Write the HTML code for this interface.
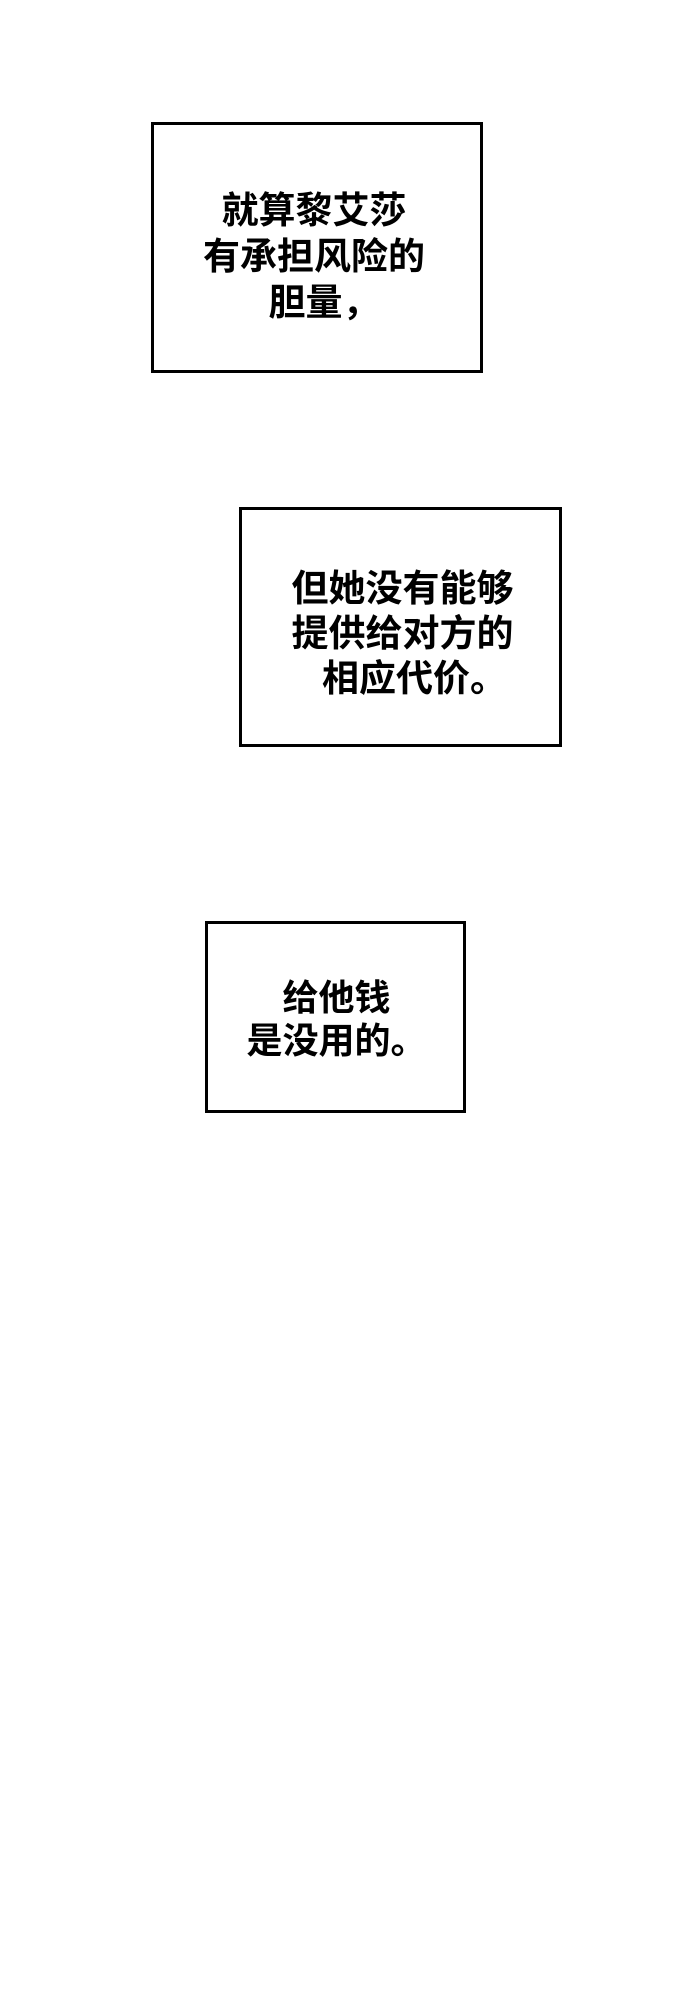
<!DOCTYPE html>
<html><head><meta charset="utf-8"><style>
html,body{margin:0;padding:0;background:#fff;}
body{width:690px;height:2000px;position:relative;overflow:hidden;font-family:"Liberation Sans","Noto Sans CJK SC",sans-serif;}
.b{position:absolute;border:3px solid #000;box-sizing:border-box;background:#fff;}
.t{position:absolute;left:0;right:0;text-align:center;font-size:36px;font-weight:bold;color:#000;line-height:45px;white-space:nowrap;}
</style></head><body>
<div class="b" style="left:151px;top:122px;width:332px;height:251px;">
<div class="t" style="top:63px;left:-6px;font-size:37px;line-height:46px;">就算黎艾莎<br>有承担风险的<br><span style="position:relative;left:10px;">胆量，</span></div></div>
<div class="b" style="left:239px;top:507px;width:323px;height:240px;">
<div class="t" style="top:56px;left:4px;font-size:37px;">但她没有能够<br>提供给对方的<br><span style="position:relative;left:12px;">相应代价。</span></div></div>
<div class="b" style="left:205px;top:921px;width:261px;height:192px;">
<div class="t" style="top:52px;left:2px;line-height:43px;">给他钱<br>是没用的。</div></div>
</body></html>
